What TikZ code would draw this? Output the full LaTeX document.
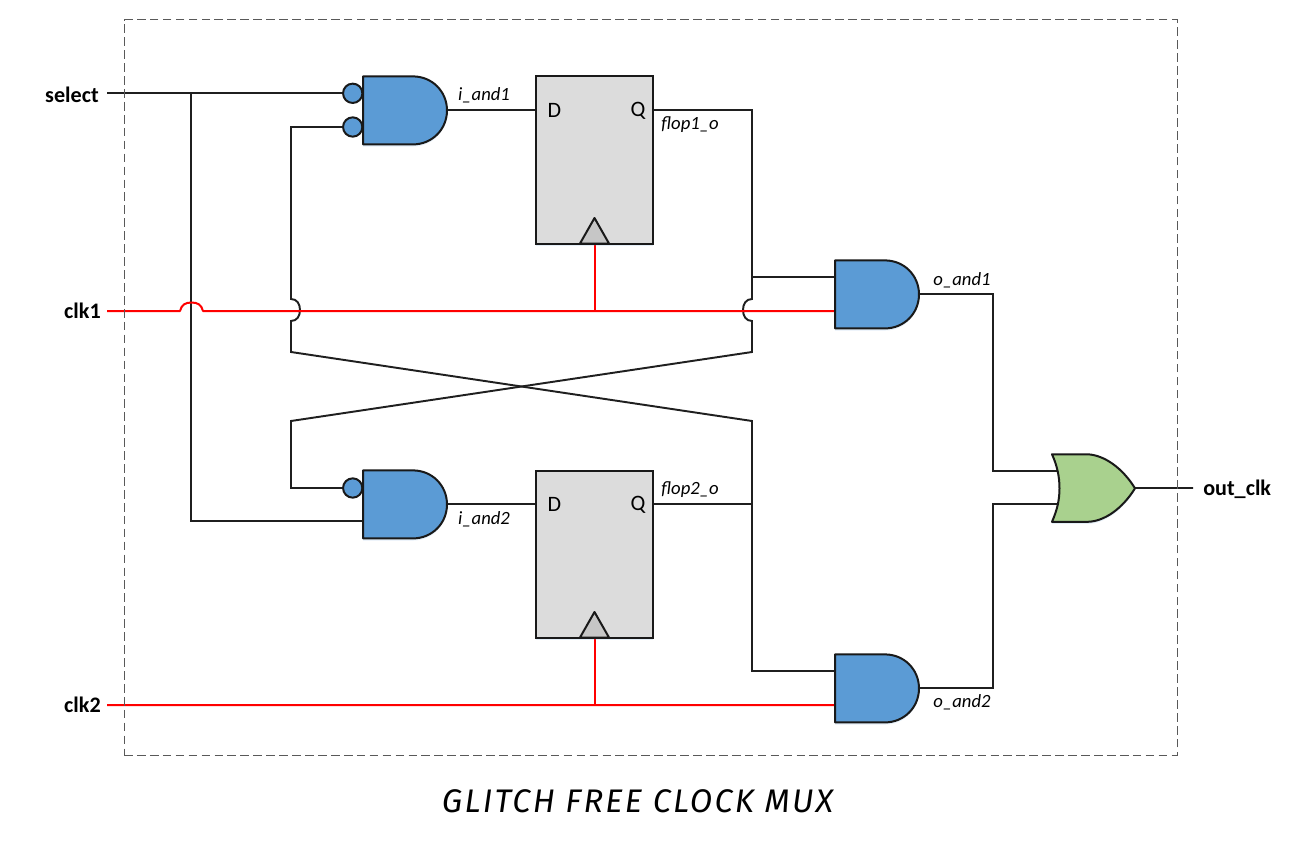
\documentclass[tikz,border=0pt]{standalone}
\usepackage{fontspec}
\setmainfont{Carlito}
\newfontfamily\titlefont[LetterSpace=6.8]{Fira Sans}
\usetikzlibrary{backgrounds,shadows}
\definecolor{gateblue}{HTML}{5B9BD5}
\definecolor{gategreen}{HTML}{A9D18E}
\definecolor{ffgray}{HTML}{DCDCDC}
\definecolor{trigray}{HTML}{C6C6C6}
\definecolor{clkred}{HTML}{FF0000}
\tikzset{
  wire/.style={draw=black!88,line width=1.45pt,line join=miter},
  clk/.style={draw=clkred,line width=1.5pt,line join=round},
  softshadow/.style={drop shadow={shadow xshift=0pt,shadow yshift=-1.6pt,fill=gateblue,opacity=.16,draw=none}},
  gatebody/.style={draw=black!90,line width=1.5pt,line join=round,softshadow},
  pinbox/.style={inner sep=0pt,minimum width=63pt,minimum height=51pt},
  bubble/.style={circle,draw=black!90,fill=gateblue,line width=1.5pt,inner sep=0pt,minimum size=14.5pt},
  port/.style={font=\fontsize{16.6}{18}\selectfont\bfseries,inner sep=0pt},
  sig/.style={font=\fontsize{14}{16}\selectfont\itshape,inner sep=0pt},
  pinlabel/.style={font=\fontsize{16.5}{18}\selectfont,inner sep=0pt}
}
\newcommand{\andgate}[3]{%
  \begin{scope}[shift={(#2,#3)}]
    \node[pinbox] (#1) at (42,34) {};
    \path[gatebody,fill=gateblue] (0,0) -- (50,0) .. controls (69,0) and (84,15) .. (84,34)
       .. controls (84,53) and (69,68) .. (50,68) -- (0,68) -- cycle;
    \coordinate (#1-a) at (0,16.6);
    \coordinate (#1-b) at (0,50.6);
    \coordinate (#1-o) at (84,33.6);
  \end{scope}}
\newcommand{\flop}[3]{%
  \begin{scope}[shift={(#2,#3)}]
    \node[softshadow,draw=black!90,fill=ffgray,line width=1.5pt,inner sep=0pt,minimum width=87.75pt,minimum height=125.25pt] (#1) at (58.5,83.5) {};
    \node[pinlabel] (#1-dl) at (18.5,34) {D};
    \node[pinlabel] (#1-ql) at (102,34) {Q};
    \path[draw=black!90,line width=1.5pt,line join=round,fill=trigray] (44,167) -- (58.5,141.5) -- (73,167) -- cycle;
    \coordinate (#1-d) at (0,33.5);
    \coordinate (#1-q) at (117,33.5);
    \coordinate (#1-c) at (58.5,167);
  \end{scope}}
\begin{document}
\begin{tikzpicture}[x=0.75pt,y=-0.75pt]
\useasboundingbox (0,0) rectangle (1290,849);
% frame
\node[draw=black!65,dash pattern=on 6.5pt off 3.2pt,line width=0.75pt,inner sep=0pt,minimum width=789.75pt,minimum height=551.25pt] (frame) at (650.5,387.5) {};
% gates
\andgate{ia}{363}{76.4}
\andgate{ib}{363}{470.4}
\andgate{oa}{835}{260.4}
\andgate{ob}{835}{654.4}
\flop{ffa}{536}{76.5}
\flop{ffb}{536}{470.5}
\begin{scope}[shift={(1052,454.3)}]
  \node[inner sep=0pt,minimum width=62pt,minimum height=50pt] (org) at (41,34) {};
  \path[gatebody,fill=gategreen] (0,0) -- (36,0) .. controls (52,1) and (70,13) .. (83,34)
     .. controls (70,55) and (52,67) .. (36,67.5) -- (0,67.5)
     .. controls (5,56) and (7.5,46) .. (7.5,34) .. controls (7.5,22) and (5,11) .. (0,0) -- cycle;
  \coordinate (org-a) at (6,16.7);
  \coordinate (org-b) at (6,49.7);
  \coordinate (org-o) at (83,33.7);
\end{scope}
\node[bubble] (b1) at (352.7,93.3) {};
\node[bubble] (b2) at (352.7,127) {};
\node[bubble] (b3) at (352.7,488) {};
% ports
\node[port,anchor=east] (lsel) at (99,95) {select};
\node[port,anchor=east] (lck1) at (101,311) {clk1};
\node[port,anchor=east] (lck2) at (101,705) {clk2};
\node[port,anchor=west] (lout) at (1203,489) {out\_clk};
% signal labels
\node[sig] (s1) at (484,95) {i\_and1};
\node[sig] (s2) at (690,125) {flop1\_o};
\node[sig] (s3) at (962,280) {o\_and1};
\node[sig] (s4) at (484,519) {i\_and2};
\node[sig] (s5) at (690,490) {flop2\_o};
\node[sig] (s6) at (962,702) {o\_and2};
% title
\node[inner sep=0pt,font=\titlefont\fontsize{24.5}{26}\selectfont\itshape] (title) at (637.5,801) {GLITCH FREE CLOCK MUX};
% free ends and bends
\coordinate (selin) at (107,93.3);
\coordinate (selj) at (191,93.3);
\coordinate (ck1in) at (107,311);
\coordinate (ck2in) at (107,705);
\coordinate (outend) at (1193,488);
\coordinate (xa) at (291,127);
\coordinate (xb) at (291,299);
\coordinate (xm) at (300,310);
\coordinate (xc) at (291,321);
\coordinate (xd) at (291,352);
\coordinate (xe) at (752,421);
\coordinate (xf) at (752,671);
\coordinate (ya) at (752,110);
\coordinate (yb) at (752,299);
\coordinate (ym) at (743,310);
\coordinate (yc) at (752,321);
\coordinate (yd) at (752,352);
\coordinate (ye) at (291,421);
\coordinate (yf) at (291,488);
\coordinate (yj) at (752,277);
\coordinate (zj) at (752,504);
\coordinate (ua) at (993,294);
\coordinate (ub) at (993,471);
\coordinate (va) at (993,688);
\coordinate (vb) at (993,504);
\coordinate (cj1) at (594.5,311);
\coordinate (cj2) at (594.5,705);
\begin{pgfonlayer}{background}
% select
\draw[wire] (selin) -- (b1.west);
\draw[wire] (selj) |- (ib-b);
% cross-coupling
\draw[wire] (b2.west) -- (xa) -- (xb) .. controls +(6,0) and +(0,-6) .. (xm) .. controls +(0,6) and +(6,0) .. (xc) -- (xd) -- (xe) -- (xf) -- (ob-a);
\draw[wire] (ffa-q) -- (ya) -- (yb) .. controls +(-6,0) and +(0,-6) .. (ym) .. controls +(0,6) and +(-6,0) .. (yc) -- (yd) -- (ye) -- (yf) -- (b3.west);
\draw[wire] (yj) -- (oa-a);
\draw[wire] (ffb-q) -- (zj);
% data
\draw[wire] (ia-o) -- (ffa-d);
\draw[wire] (ib-o) -- (ffb-d);
% outputs
\draw[wire] (oa-o) -- (ua) -- (ub) -- (org-a);
\draw[wire] (ob-o) -- (va) -- (vb) -- (org-b);
\draw[wire] (org-o) -- (outend);
% clocks
\draw[clk] (ck1in) -- (180,311) .. controls (181.5,305) and (185,302.5) .. (191.5,302.5) .. controls (198,302.5) and (201.5,305) .. (203,311) -- (oa-b);
\draw[clk] (cj1) -- (ffa-c);
\draw[clk] (ck2in) -- (ob-b);
\draw[clk] (cj2) -- (ffb-c);
\end{pgfonlayer}
\end{tikzpicture}
\end{document}
